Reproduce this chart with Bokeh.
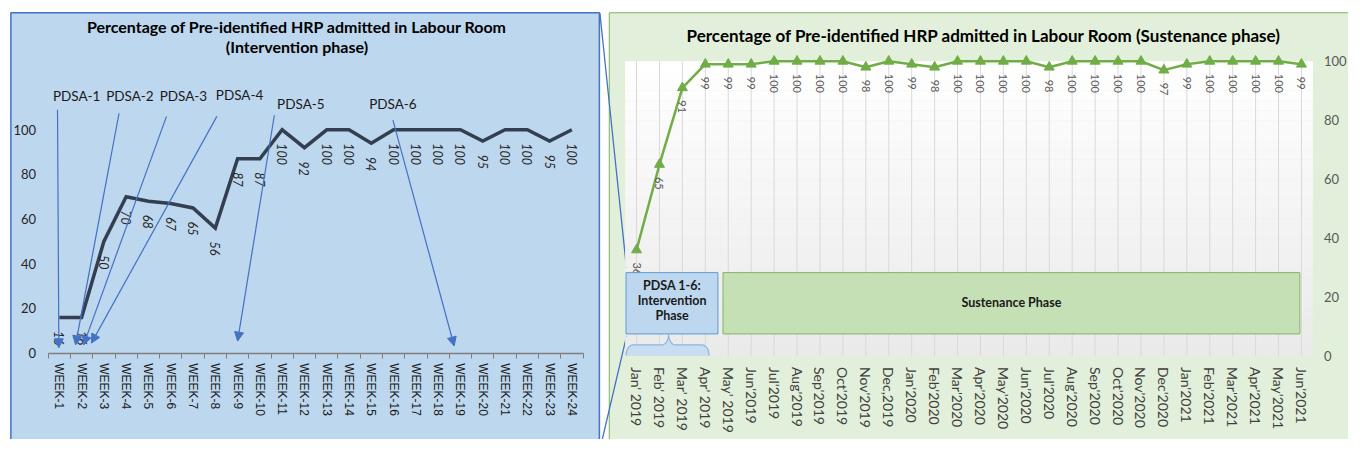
import numpy as np
from math import pi
from bokeh.plotting import figure
from bokeh.models import Range1d, LinearAxis, FixedTicker, Arrow, NormalHead, ColumnDataSource
from bokeh.embed import file_html
from bokeh.resources import INLINE
from bokeh.core.properties import value

# ---------------- data ----------------
weeks = ["WEEK-1", "WEEK-2", "WEEK-3", "WEEK-4", "WEEK-5", "WEEK-6", "WEEK-7", "WEEK-8",
         "WEEK-9", "WEEK-10", "WEEK-11", "WEEK-12", "WEEK-13", "WEEK-14", "WEEK-15", "WEEK-16",
         "WEEK-17", "WEEK-18", "WEEK-19", "WEEK-20", "WEEK-21", "WEEK-22", "WEEK-23", "WEEK-24"]
week_pct = [16, 16, 50, 70, 68, 67, 65, 56, 87, 87, 100, 92, 100, 100, 94, 100, 100, 100, 100, 95,
            100, 100, 95, 100]

months = ["Jan' 2019", "Feb' 2019", "Mar' 2019", "Apr' 2019", "May' 2019", "Jun'2019", "Jul'2019",
          "Aug'2019", "Sep'2019", "Oct'2019", "Nov'2019", "Dec,2019", "Jan'2020", "Feb'2020",
          "Mar'2020", "Apr'2020", "May'2020", "Jun'2020", "Jul'2020", "Aug'2020", "Sep'2020",
          "Oct'2020", "Nov'2020", "Dec'2020", "Jan'2021", "Feb'2021", "Mar'2021", "Apr'2021",
          "May'2021", "Jun'2021"]
month_pct = [36, 65, 91, 99, 99, 99, 100, 100, 100, 100, 98, 100, 99, 98, 100, 100, 100, 100, 98, 100,
             100, 100, 100, 97, 99, 100, 100, 100, 100, 99]

y_ticks = [0, 20, 40, 60, 80, 100]

pdsa_names = ["PDSA-1", "PDSA-2", "PDSA-3", "PDSA-4", "PDSA-5", "PDSA-6"]
pdsa_label_week = [1.78, 4.17, 6.57, 9.09, 11.84, 15.97]
pdsa_label_pct = [115.1, 115.1, 115.1, 115.6, 111.7, 111.7]
pdsa_from_week = [0.92, 3.68, 5.81, 8.07, 10.65, 15.97]
pdsa_from_pct = [109.0, 107.3, 106.0, 106.0, 106.5, 104.3]
pdsa_to_week = [0.98, 1.73, 2.09, 2.44, 9.0, 18.72]
pdsa_to_pct = [2.4, 3.7, 3.7, 4.5, 5.4, 3.2]

title_left_1 = "Percentage of Pre-identified HRP admitted in Labour Room"
title_left_2 = "(Intervention phase)"
title_right = "Percentage of Pre-identified HRP admitted in Labour Room (Sustenance phase)"
phase1_lines = ["PDSA 1-6:", "Intervention", "Phase"]
phase2_text = "Sustenance Phase"

# ---------------- layout helpers ----------------
W, H = 1348, 439                 # canvas size
RX_L, RX_R = 0, 1364             # reference-picture x at frame left/right
RY_B, RY_T = 455, 0              # reference-picture y at frame bottom/top


def lin_range(v0, p0, v1, p1, lo, hi):
    s = (p1 - p0) / (v1 - v0)
    return Range1d(start=v0 + (lo - p0) / s, end=v0 + (hi - p0) / s)


# intervention chart scale (reference pixels)
L_X0, L_DX = 59.5, 22.55
L_Y0, L_DY = 365.5, 2.315
# sustenance chart scale
R_X0, R_DX = 643.6, 23.2
R_Y0, R_DY = 368.5, 3.055

p = figure(width=W, height=H, x_range=Range1d(RX_L, RX_R), y_range=Range1d(RY_B, RY_T),
           x_axis_type=None, y_axis_type=None, toolbar_location=None, output_backend="svg",
           min_border=0, outline_line_color=None, background_fill_color="white",
           border_fill_color="white", title=None)
p.extra_x_ranges = {
    "Lx": lin_range(1, L_X0, 24, L_X0 + 23 * L_DX, RX_L, RX_R),
    "Rx": lin_range(1, R_X0, 30, R_X0 + 29 * R_DX, RX_L, RX_R),
}
p.extra_y_ranges = {
    "Ly": lin_range(0, L_Y0, 100, L_Y0 - 100 * L_DY, RY_B, RY_T),
    "Ry": lin_range(0, R_Y0, 100, R_Y0 - 100 * R_DY, RY_B, RY_T),
}
L = dict(x_range_name="Lx", y_range_name="Ly")
R = dict(x_range_name="Rx", y_range_name="Ry")

FONT = value("Lato")

# ---------------- panels ----------------
p.quad(left=[10.5], right=[606], top=[12.7], bottom=[470], fill_color="#BDD7EE",
       line_color="#4472C4", line_width=1.5)
p.quad(left=[616], right=[1380], top=[12.7], bottom=[470], fill_color="#E2EFDA",
       line_color="#7EB35B", line_width=1)

# connector lines between panels
p.line(x=[606.5, 634], y=[13, 283], color="#4472C4", line_width=1.3)
p.line(x=[605, 634], y=[472, 345.5], color="#4472C4", line_width=1.3)

# titles
p.text(x=[300], y=[27], text=[title_left_1], text_font=FONT, text_font_style="bold",
       text_font_size="16px", text_align="center", text_baseline="middle", text_color="#000000")
p.text(x=[300], y=[48], text=[title_left_2], text_font=FONT, text_font_style="bold",
       text_font_size="16px", text_align="center", text_baseline="middle", text_color="#000000")
p.text(x=[995], y=[36], text=[title_right], text_font=FONT, text_font_style="bold",
       text_font_size="17px", text_align="center", text_baseline="middle", text_color="#000000")

# ---------------- intervention chart ----------------
wk = list(range(1, len(weeks) + 1))
p.line(x=wk, y=week_pct, color="#333F50", line_width=3.5, line_join="miter", **L)
p.text(x=wk, y=[v - 14 / L_DY for v in week_pct], text=[str(v) for v in week_pct],
       angle=-pi / 2, text_align="left", text_baseline="middle", text_font=FONT,
       text_font_style="italic", text_font_size="12.5px", text_color="#262626", **L)

p.text(x=pdsa_label_week, y=pdsa_label_pct, text=pdsa_names, text_font=FONT,
       text_font_size="13.5px", text_align="center", text_baseline="middle",
       text_color="#1a1a1a", **L)
arrow_src = ColumnDataSource(dict(x0=pdsa_from_week, y0=pdsa_from_pct,
                                  x1=pdsa_to_week, y1=pdsa_to_pct))
p.add_layout(Arrow(source=arrow_src, x_start="x0", y_start="y0", x_end="x1", y_end="y1",
                   line_color="#4472C4", line_width=1.2,
                   end=NormalHead(size=9, fill_color="#4472C4", line_color="#4472C4"), **L))

ax_lx = LinearAxis(fixed_location=0, bounds=(0.5, 24.5),
                   ticker=FixedTicker(ticks=wk, minor_ticks=[w - 0.5 for w in wk] + [24.5]),
                   major_label_overrides={w: s for w, s in zip(wk, weeks)},
                   major_label_orientation="vertical", axis_line_color="#7F7F7F",
                   axis_line_width=1.5, major_tick_line_color=None, major_tick_out=0,
                   major_tick_in=0, minor_tick_line_color="#7F7F7F", minor_tick_out=5,
                   minor_tick_in=0, major_label_standoff=5,
                   major_label_text_font="Liberation Sans",
                   major_label_text_font_size="12px", major_label_text_color="#1a1a1a", **L)
p.add_layout(ax_lx, "below")
ax_ly = LinearAxis(fixed_location=0.5, bounds=(0, 100), ticker=FixedTicker(ticks=y_ticks),
                   axis_line_color=None, major_tick_line_color=None, minor_tick_line_color=None,
                   major_tick_out=0, major_tick_in=0, minor_tick_out=0, major_label_standoff=12,
                   major_label_text_font="Lato", major_label_text_font_size="13px",
                   major_label_text_color="#262626", **L)
p.add_layout(ax_ly, "left")

# ---------------- sustenance chart ----------------
mo = list(range(1, len(months) + 1))
n_strip = 30
edges = np.linspace(0, 100, n_strip + 1)
cols = []
for i in range(n_strip):
    t = (i + 0.5) / n_strip
    c = int(round(234 + (255 - 234) * t))
    cols.append("#%02x%02x%02x" % (c, c, c))
p.quad(left=[0.5] * n_strip, right=[30.5] * n_strip, bottom=edges[:-1], top=edges[1:],
       fill_color=cols, line_color=None, **R)
p.segment(x0=mo, y0=[0] * len(mo), x1=mo, y1=[100] * len(mo), line_color="#D9D9D9",
          line_width=1, **R)

p.line(x=mo, y=month_pct, color="#70AD47", line_width=2.5, **R)
p.scatter(x=mo, y=month_pct, marker="triangle", size=10, fill_color="#70AD47",
          line_color="#70AD47", **R)
p.text(x=mo, y=[v - 13 / R_DY for v in month_pct], text=[str(v) for v in month_pct],
       angle=-pi / 2, text_align="left", text_baseline="middle", text_font=FONT,
       text_font_size="11px", text_color="#595959", **R)

# phase boxes
p.quad(left=[0.54], right=[4.55], bottom=[7.5], top=[28.3], fill_color="#BDD7EE",
       line_color="#5B9BD5", line_width=1, **R)
p.quad(left=[4.77], right=[29.93], bottom=[7.5], top=[28.3], fill_color="#C5E0B4",
       line_color="#82B366", line_width=1, **R)
p.text(x=[2.55] * 3, y=[23.9, 18.7, 13.8], text=phase1_lines, text_font=FONT,
       text_font_style="bold", text_font_size="12.5px", text_align="center",
       text_baseline="middle", text_color="#1a1a1a", **R)
p.text(x=[17.35], y=[18.0], text=[phase2_text], text_font=FONT, text_font_style="bold",
       text_font_size="12.5px", text_align="center", text_baseline="middle",
       text_color="#1a1a1a", **R)

# brace under the intervention box (reference pixel geometry)
s = np.linspace(0, pi / 2, 12)
bx = [633.0]
by = [368.5]
bx += list(640 - 7 * np.cos(s)); by += list(368 - 11 * np.sin(s))
bx += list(669 + 7 * np.sin(s)); by += list(346 + 11 * np.cos(s))
bx += list(683 - 7 * np.cos(s)); by += list(346 + 11 * np.sin(s))
bx += list(710 + 7 * np.sin(s)); by += list(368 - 11 * np.cos(s))
bx += [717.0]; by += [368.5]
p.patch(x=bx, y=by, fill_color="#C9DDF1", line_color=None)
p.line(x=bx[1:-1], y=by[1:-1], line_color="#8FB4DE", line_width=1.2)

ax_rx = LinearAxis(fixed_location=0, bounds=(0.5, 30.5), ticker=FixedTicker(ticks=mo),
                   major_label_overrides={m: s for m, s in zip(mo, months)},
                   major_label_orientation="vertical", axis_line_color=None,
                   major_tick_line_color=None, minor_tick_line_color=None, major_tick_out=0,
                   major_tick_in=0, minor_tick_out=0, major_label_standoff=11,
                   major_label_text_font="Lato", major_label_text_font_size="14px",
                   major_label_text_color="#404040", **R)
p.add_layout(ax_rx, "below")
ax_ry = LinearAxis(fixed_location=30.5, bounds=(0, 100), ticker=FixedTicker(ticks=y_ticks),
                   axis_line_color=None, major_tick_line_color=None, minor_tick_line_color=None,
                   major_tick_out=0, major_tick_in=0, minor_tick_out=0, major_label_standoff=11,
                   major_label_text_font="Lato", major_label_text_font_size="13px",
                   major_label_text_color="#595959", **R)
p.add_layout(ax_ry, "right")

open("out.html", "w").write(file_html(p, INLINE, title="HRP admitted in Labour Room"))
